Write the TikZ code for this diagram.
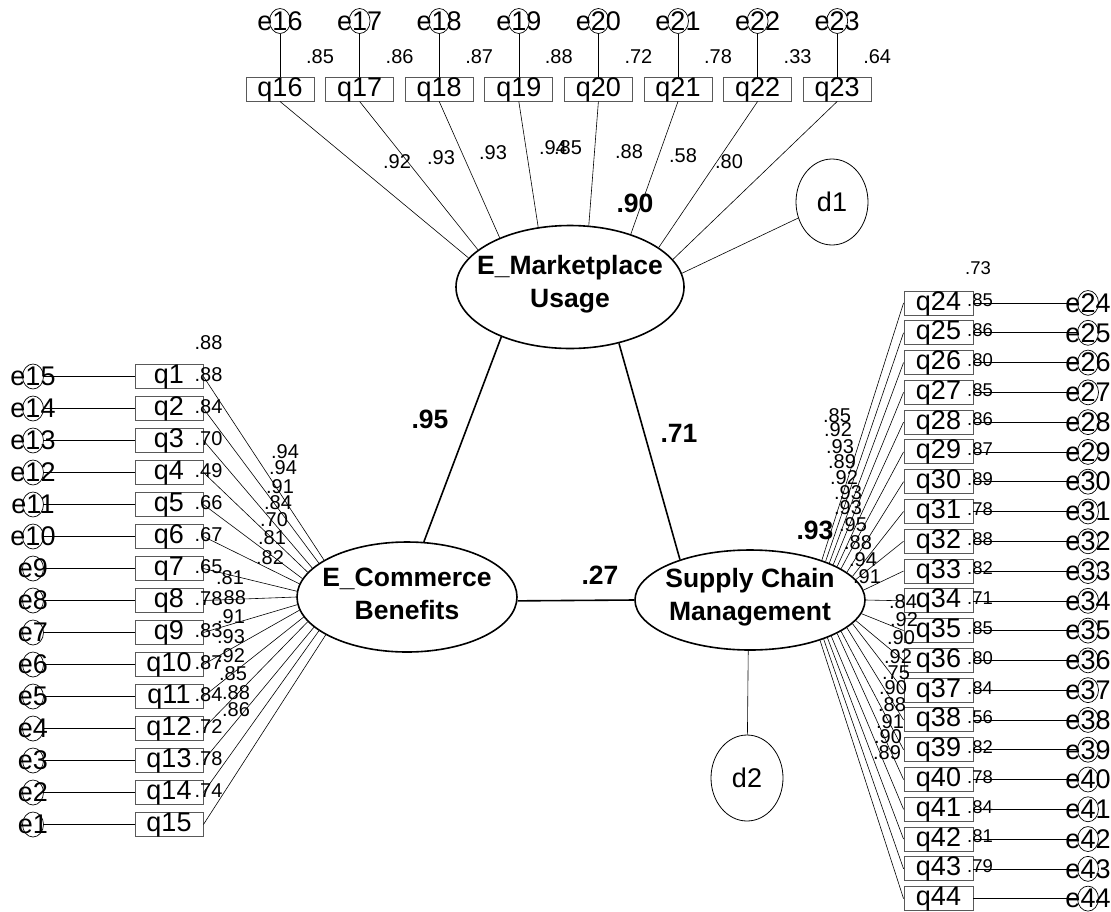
\documentclass[tikz,border=0pt]{standalone}
\usepackage{fontspec}
\setmainfont{Liberation Sans}
\usetikzlibrary{shapes.geometric}
\begin{document}
\begin{tikzpicture}[x=1pt,y=-1pt,
  obs/.style={draw=black!65, line width=0.9pt, rectangle, minimum width=68pt, text height=19pt, text depth=5pt, inner sep=0pt, font=\fontsize{27}{28}\selectfont},
  err/.style={draw=black, line width=0.7pt, ellipse, minimum width=21pt, minimum height=25pt, inner sep=0pt},
  errtxt/.style={font=\fontsize{27}{28}\selectfont, inner sep=0pt},
  lat/.style={draw, ellipse, line width=1.6pt, inner sep=0pt},
  lattxt/.style={font=\fontsize{26.5}{33}\selectfont\bfseries, align=center, inner sep=0pt},
  distc/.style={draw, ellipse, line width=0.8pt, minimum width=72pt, minimum height=86pt, inner sep=0pt},
  num/.style={font=\fontsize{20}{20}\selectfont, inner sep=0pt},
  numr/.style={font=\fontsize{18.5}{20}\selectfont, inner sep=0pt},
  bnum/.style={font=\fontsize{26.5}{28}\selectfont\bfseries, inner sep=0pt},
  ln/.style={line width=0.6pt},
  spath/.style={line width=1.6pt}
]
\useasboundingbox (0,0) rectangle (1111,911);

% latent variables
\node[lat, minimum width=228pt, minimum height=123pt] (emu) at (570,287) {};
\node[lattxt] (emut) at (570,284) {E\_Marketplace\\Usage};
\node[lat, minimum width=220pt, minimum height=110pt] (ecb) at (407,597) {};
\node[lattxt] (ecbt) at (407,594) {E\_Commerce\\Benefits};
\node[lat, minimum width=230pt, minimum height=100pt] (scm) at (750,600) {};
\node[lattxt] (scmt) at (750,597) {Supply Chain\\Management};

% disturbances
\node[distc] (d1) at (832,202) {};
\node[errtxt] (td1) at (d1) {d1};
\draw[ln] (d1) -- (emu.7.6);
\node[distc] (d2) at (747,778) {};
\node[errtxt] (td2) at (d2) {d2};
\draw[ln] (d2) -- (scm.-92);

% structural paths
\draw[spath] (emu.216.9) -- (ecb.73.8);
\draw[spath] (emu.311.8) -- (scm.150.9);
\draw[spath] (ecb.-2) -- (scm.west);

% left indicators q1..q15
\foreach \i in {1,...,15}{
  \pgfmathsetmacro\yy{376.5+32*(\i-1)}
  \pgfmathtruncatemacro\ee{16-\i}
  \pgfmathsetmacro\aa{156+3.5*(\i-1)}
  \node[obs] (q\i) at (169,\yy) {q\i};
  \node[err] (e\ee) at (33,\yy) {};
  \node[errtxt] (te\ee) at (e\ee) {e\ee};
  \draw[ln] (e\ee) -- (q\i);
  \draw[ln] (q\i.east) -- (ecb.\aa);
}

% top indicators q16..q23
\foreach \j/\a in {1/164.6,2/158.3,3/145.2,4/118.1,5/73.8,6/41.1,7/24.2,8/15.9}{
  \pgfmathtruncatemacro\n{15+\j}
  \pgfmathsetmacro\xx{280+79.6*(\j-1)}
  \node[obs] (q\n) at (\xx,89) {q\n};
  \node[err] (e\n) at (\xx,21) {};
  \node[errtxt] (te\n) at (e\n) {e\n};
  \draw[ln] (e\n) -- (q\n);
  \draw[ln] (q\n.south) -- (emu.\a);
}

% right indicators q24..q44
\foreach \k/\a in {1/29.6,2/27.9,3/25.7,4/23.2,5/21.1,6/19.1,7/16.5,8/13.9,9/11,10/5.8,11/0,12/-7.6,13/-11,14/-13.9,15/-16.5,16/-19.1,17/-21.6,18/-24.2,19/-26.3,20/-28.4,21/-30.6}{
  \pgfmathtruncatemacro\n{23+\k}
  \pgfmathsetmacro\yy{303+29.78*(\k-1)}
  \node[obs, minimum width=69pt] (q\n) at (938.5,\yy) {q\n};
  \node[err] (e\n) at (1088,\yy) {};
  \node[errtxt] (te\n) at (e\n) {e\n};
  \draw[ln] (q\n) -- (e\n);
  \draw[ln] (q\n.west) -- (scm.\a);
}

% left squared multiple correlations
\foreach \v [count=\c] in {.88,.88,.84,.70,.49,.66,.67,.65,.78,.83,.87,.84,.72,.78,.74}{
  \pgfmathsetmacro\yy{343+32*(\c-1)}
  \node[num] (rl\c) at (208.5,\yy) {\v};
}
% left loadings
\foreach \x/\y/\v [count=\c] in {285/452/.94,283/468/.94,280/487/.91,278/503/.84,274/520/.70,272/538/.81,270/558/.82,230/578/.81,232/598/.88,231/617/.91,231/637/.93,231/656/.92,233/674/.85,236/693/.88,236/710/.86}{
  \node[num] (ll\c) at (\x,\y) {\v};
}

% top squared multiple correlations
\foreach \v [count=\c] in {.85,.86,.87,.88,.72,.78,.33,.64}{
  \pgfmathsetmacro\xx{320+79.6*(\c-1)}
  \node[num] (rt\c) at (\xx,57) {\v};
}
% top loadings
\foreach \x/\y/\v [count=\c] in {397/162/.92,441/158/.93,493/153/.93,553/148/.94,568/148/.85,629/152/.88,683/156/.58,729/162/.80}{
  \node[num] (lt\c) at (\x,\y) {\v};
}

% right squared multiple correlations
\node[numr] (rr0) at (978,268) {.73};
\foreach \v [count=\c] in {.85,.86,.80,.85,.86,.87,.89,.78,.88,.82,.71,.85,.80,.84,.56,.82,.78,.84,.81,.79}{
  \pgfmathsetmacro\yy{300.5+29.78*(\c-1)}
  \node[numr] (rr\c) at (980,\yy) {\v};
}
% right loadings
\foreach \x/\y/\v [count=\c] in {837/416/.85,838/430/.92,840/447/.93,842/462/.89,844/478/.92,848/493/.93,848/508/.93,853/525/.95,858/543/.88,863/560/.94,867/577/.91,903/602/.84,904/620/.92,901/638/.90,898/657/.92,896/673/.75,893/688/.90,892/705/.88,890/722/.91,888/737/.90,887/753/.89}{
  \node[num] (lr\c) at (\x,\y) {\v};
}

% structural coefficients
\node[bnum] (b1) at (430,419) {.95};
\node[bnum] (b2) at (679,433) {.71};
\node[bnum] (b3) at (600,575) {.27};
\node[bnum] (b4) at (635,203) {.90};
\node[bnum] (b5) at (815,530) {.93};
\end{tikzpicture}
\end{document}
